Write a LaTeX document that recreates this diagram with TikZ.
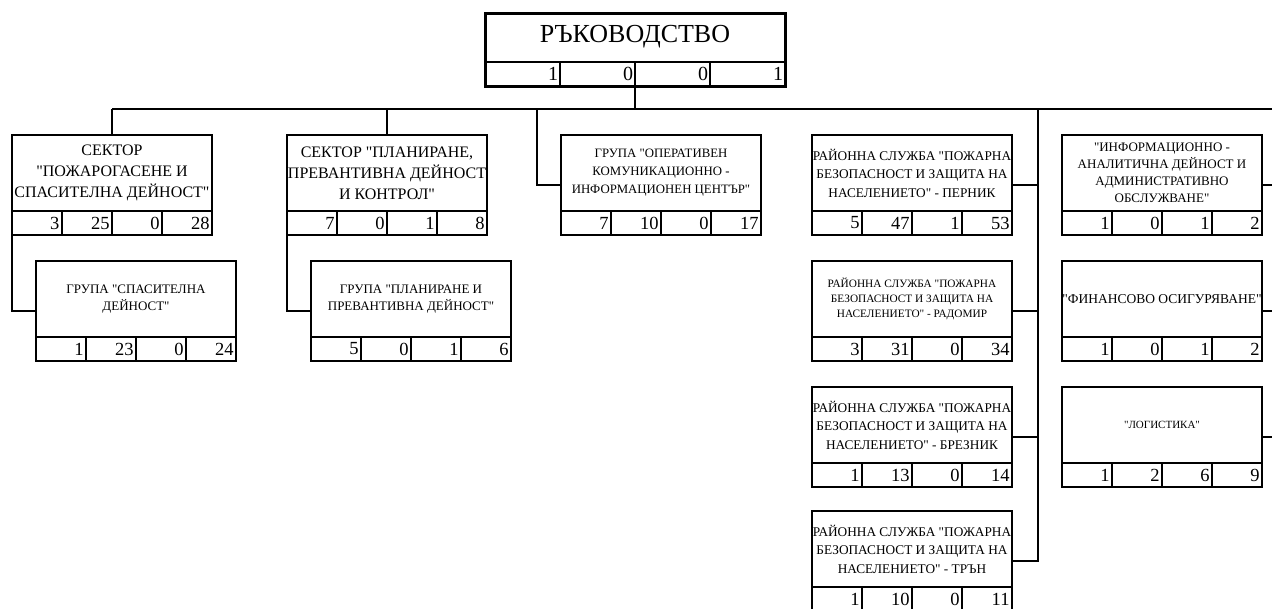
\documentclass[tikz,border=0pt]{standalone}
\usepackage{fontspec}
\setmainfont{Liberation Serif}[Ligatures=TeXOff]

\begin{document}
\begin{tikzpicture}[x=1pt, y=-1pt, line width=2.8pt,
  frame/.style={draw, minimum width=200pt, minimum height=100pt, inner sep=0, outer sep=0},
  ttl/.style={align=center, inner sep=0},
  big/.style={font=\fontsize{16}{21}\selectfont},
  mid/.style={font=\fontsize{13.3}{18.5}\selectfont},
  sml/.style={font=\fontsize{13}{17.5}\selectfont},
  cell/.style={draw, minimum width=50pt, minimum height=24pt, inner sep=0, outer sep=0,
    text width=45pt, align=right, font=\fontsize{18.5}{18.5}\selectfont}]

\useasboundingbox (0,0) rectangle (1272,608);
\clip (0,0) rectangle (1272,608);

% ръководство
\node[frame, minimum width=300pt, minimum height=73pt, line width=3pt] (ruk) at (635,49.5) {};
\node[ttl, font=\fontsize{26}{30}\selectfont] (ruk-t) at (635,37) {РЪКОВОДСТВО};
\foreach \v [count=\i] in {1,0,0,1}
  \node[cell, minimum width=75pt, text width=71pt, font=\fontsize{20}{20}\selectfont] (ruk-\i) at (447.5+75*\i,74) {\v};

\coordinate (busL) at (112,109);
\coordinate (busR) at (1290,109);
\draw (busL) -- (busR);
\draw (ruk-2.south east) -- (ruk-2.south east |- busL);

% сектор пожарогасене
\node[frame] (pog) at (112,185) {};
\node[ttl, big] (pog-t) at (112,173) {СЕКТОР\\"ПОЖАРОГАСЕНЕ И\\СПАСИТЕЛНА ДЕЙНОСТ"};
\foreach \v [count=\i] in {3,25,0,28}
  \node[cell] (pog-\i) at (-13+50*\i,223) {\v};

\node[frame] (spas) at (136,311) {};
\node[ttl, sml] (spas-t) at (136,299) {ГРУПА "СПАСИТЕЛНА\\ДЕЙНОСТ"};
\foreach \v [count=\i] in {1,23,0,24}
  \node[cell] (spas-\i) at (11+50*\i,349) {\v};

% сектор планиране
\node[frame] (plan) at (387,185) {};
\node[ttl, big] (plan-t) at (387,173) {СЕКТОР "ПЛАНИРАНЕ,\\ПРЕВАНТИВНА ДЕЙНОСТ\\И КОНТРОЛ"};
\foreach \v [count=\i] in {7,0,1,8}
  \node[cell] (plan-\i) at (262+50*\i,223) {\v};

\node[frame] (prev) at (411,311) {};
\node[ttl, sml] (prev-t) at (411,299) {ГРУПА "ПЛАНИРАНЕ И\\ПРЕВАНТИВНА ДЕЙНОСТ"};
\foreach \v [count=\i] in {5,0,1,6}
  \node[cell] (prev-\i) at (286+50*\i,349) {\v};

% група окиц
\node[frame] (okic) at (661,185) {};
\node[ttl, font=\fontsize{12.8}{18}\selectfont] (okic-t) at (661,173) {ГРУПА "ОПЕРАТИВЕН\\КОМУНИКАЦИОННО -\\ИНФОРМАЦИОНЕН ЦЕНТЪР"};
\foreach \v [count=\i] in {7,10,0,17}
  \node[cell] (okic-\i) at (536+50*\i,223) {\v};

% районни служби
\node[frame] (pernik) at (912,185) {};
\node[ttl, mid] (pernik-t) at (912,173) {РАЙОННА СЛУЖБА "ПОЖАРНА\\БЕЗОПАСНОСТ И ЗАЩИТА НА\\НАСЕЛЕНИЕТО" - ПЕРНИК};
\foreach \v [count=\i] in {5,47,1,53}
  \node[cell] (pernik-\i) at (787+50*\i,223) {\v};

\node[frame] (radomir) at (912,311) {};
\node[ttl, font=\fontsize{11.3}{15}\selectfont] (radomir-t) at (912,299) {РАЙОННА СЛУЖБА "ПОЖАРНА\\БЕЗОПАСНОСТ И ЗАЩИТА НА\\НАСЕЛЕНИЕТО" - РАДОМИР};
\foreach \v [count=\i] in {3,31,0,34}
  \node[cell] (radomir-\i) at (787+50*\i,349) {\v};

\node[frame] (breznik) at (912,437) {};
\node[ttl, mid] (breznik-t) at (912,425) {РАЙОННА СЛУЖБА "ПОЖАРНА\\БЕЗОПАСНОСТ И ЗАЩИТА НА\\НАСЕЛЕНИЕТО" - БРЕЗНИК};
\foreach \v [count=\i] in {1,13,0,14}
  \node[cell] (breznik-\i) at (787+50*\i,475) {\v};

\node[frame] (tran) at (912,561) {};
\node[ttl, mid] (tran-t) at (912,549) {РАЙОННА СЛУЖБА "ПОЖАРНА\\БЕЗОПАСНОСТ И ЗАЩИТА НА\\НАСЕЛЕНИЕТО" - ТРЪН};
\foreach \v [count=\i] in {1,10,0,11}
  \node[cell] (tran-\i) at (787+50*\i,599) {\v};

% отдели
\node[frame] (iad) at (1162,185) {};
\node[ttl, font=\fontsize{13}{17}\selectfont] (iad-t) at (1162,173) {"ИНФОРМАЦИОННО -\\АНАЛИТИЧНА ДЕЙНОСТ И\\АДМИНИСТРАТИВНО\\ОБСЛУЖВАНЕ"};
\foreach \v [count=\i] in {1,0,1,2}
  \node[cell] (iad-\i) at (1037+50*\i,223) {\v};

\node[frame] (fin) at (1162,311) {};
\node[ttl, font=\fontsize{13.5}{17}\selectfont] (fin-t) at (1162,299) {"ФИНАНСОВО ОСИГУРЯВАНЕ"};
\foreach \v [count=\i] in {1,0,1,2}
  \node[cell] (fin-\i) at (1037+50*\i,349) {\v};

\node[frame] (log) at (1162,437) {};
\node[ttl, font=\fontsize{11}{15}\selectfont] (log-t) at (1162,425) {"ЛОГИСТИКА"};
\foreach \v [count=\i] in {1,2,6,9}
  \node[cell] (log-\i) at (1037+50*\i,475) {\v};

% връзки
\draw (pog.north |- busL) -- (pog.north);
\draw (pog.south west) |- (spas.west);
\draw (plan.north |- busL) -- (plan.north);
\draw (plan.south west) |- (prev.west);

\coordinate (okic-c) at (537,109);
\draw (okic-c) |- (okic.west);

\coordinate (rs) at (1038,109);
\draw (rs) |- (tran.east);
\foreach \n in {pernik,radomir,breznik}
  \draw (rs |- \n.east) -- (\n.east);

\coordinate (as) at (1287,109);
\draw (as) |- (log.east);
\foreach \n in {iad,fin}
  \draw (as |- \n.east) -- (\n.east);

\end{tikzpicture}
\end{document}
